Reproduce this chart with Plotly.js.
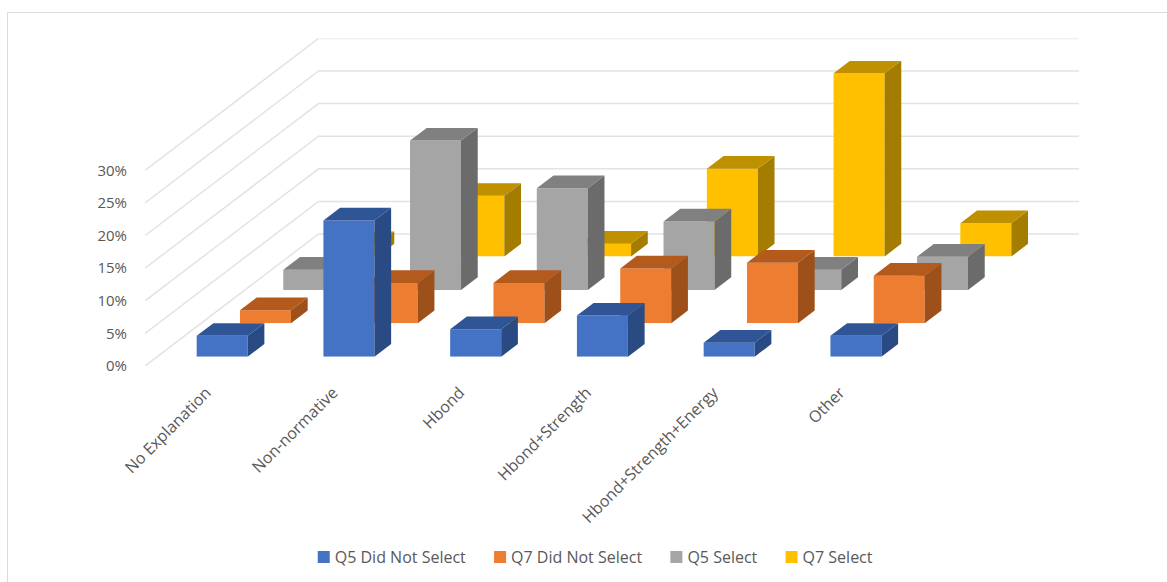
<!DOCTYPE html>
<html>
<head>
<meta charset="utf-8">
<script src="https://cdn.plot.ly/plotly-3.0.1.min.js"></script>
<style>html,body{margin:0;padding:0;background:#fff}#chart{width:1167px;height:582px}</style>
</head>
<body>
<div id="chart"></div>
<script>
// Percent of responses per explanation category, grouped by question and selection.
const categories = ['No Explanation', 'Non-normative', 'Hbond', 'Hbond+Strength', 'Hbond+Strength+Energy', 'Other'];
const percentTicks = [0, 5, 10, 15, 20, 25, 30];
const q5DidNotSelect = [3.2, 20.9, 4.2, 6.3, 2.15, 3.2];
const q7DidNotSelect = [2.0, 6.2, 6.2, 8.4, 9.3, 7.3];
const q5Select = [3.1, 22.9, 15.6, 10.5, 3.1, 5.1];
const q7Select = [1.9, 9.3, 1.95, 13.45, 28.1, 5.1];

// Page geometry, in pixels.
const W = 1167, H = 582;
const floorLeft = 145, floorWidth = 760.5, floorBottom = 366, valueHeight = 195.6;
const unitX = floorWidth / categories.length, unitY = valueHeight / 30;
const wallShift = {x: 173.5, y: 132};
const firstRow = {x: 13.8, y: 9.3}, rowStep = {x: 43.3, y: 33.4};
const barDepth = {x: 16.7, y: 12.7};
const barWidth = 51 / unitX;

// Depth expressed in each axis's own units.
const depthX = barDepth.x / unitX, depthY = barDepth.y / unitY;
const wallDX = wallShift.x / unitX, wallDY = wallShift.y / unitY;

// Series from the front row to the back row. Subplots draw in axis order, so
// the back row takes the lowest axis number and the front row the highest.
const series = [
  {name: 'Q5 Did Not Select', values: q5DidNotSelect, front: '#4472C4', top: '#2F5597', side: '#2A4A84', row: 0, axis: 5},
  {name: 'Q7 Did Not Select', values: q7DidNotSelect, front: '#ED7D31', top: '#B35A1C', side: '#9E501B', row: 1, axis: 4},
  {name: 'Q5 Select', values: q5Select, front: '#A5A5A5', top: '#808080', side: '#6B6B6B', row: 2, axis: 3},
  {name: 'Q7 Select', values: q7Select, front: '#FFC000', top: '#BF9000', side: '#A37C00', row: 3, axis: 2}
];

const traces = [];

// Wall and floor gridlines, running back from the front edge and across the wall.
const gridX = [], gridY = [];
percentTicks.forEach(t => {
  gridX.push(-0.5, -0.5 + wallDX, categories.length - 0.5 + wallDX, null);
  gridY.push(t, t + wallDY, t + wallDY, null);
});
traces.push({
  x: gridX, y: gridY, type: 'scatter', mode: 'lines', cliponaxis: false,
  line: {color: '#E3E3E3', width: 1.5}, showlegend: false, hoverinfo: 'skip', xaxis: 'x', yaxis: 'y'
});

const layout = {
  width: W, height: H,
  margin: {l: 0, r: 0, t: 0, b: 0},
  paper_bgcolor: '#ffffff', plot_bgcolor: 'rgba(0,0,0,0)',
  font: {family: '"Open Sans", sans-serif', size: 15, color: '#595959'},
  barmode: 'overlay',
  legend: {
    orientation: 'h', x: 0.5 + 3.25 / W, xanchor: 'center', y: 1 - 557 / H, yanchor: 'middle',
    font: {size: 16, color: '#595959'}, bgcolor: 'rgba(0,0,0,0)'
  },
  // The frame axes reach to the back corner of the wall; ticks stay on the front plane.
  xaxis: {
    domain: [floorLeft / W, (floorLeft + floorWidth + wallShift.x) / W],
    range: [-0.5, categories.length - 0.5 + wallDX],
    tickmode: 'array', tickvals: categories.map((c, i) => i), ticktext: categories,
    tickangle: -45, tickfont: {size: 16}, ticklabelshift: -2,
    ticks: 'outside', ticklen: 10, tickcolor: 'rgba(0,0,0,0)',
    showgrid: false, zeroline: false, showline: false, anchor: 'y'
  },
  yaxis: {
    domain: [1 - floorBottom / H, 1 - (floorBottom - valueHeight - wallShift.y) / H],
    range: [0, 30 + wallDY],
    tickmode: 'array', tickvals: percentTicks, ticktext: percentTicks.map(t => t + '%'),
    ticks: 'outside', ticklen: 14, tickcolor: 'rgba(0,0,0,0)',
    showgrid: false, zeroline: false, showline: false, anchor: 'x'
  },
  shapes: [
    {type: 'line', xref: 'paper', yref: 'paper', x0: 7.5 / W, x1: 1, y0: 1 - 12.5 / H, y1: 1 - 12.5 / H, line: {color: '#DADADA', width: 1}},
    {type: 'line', xref: 'paper', yref: 'paper', x0: 7.5 / W, x1: 7.5 / W, y0: 1 - 12.5 / H, y1: 0, line: {color: '#DADADA', width: 1}}
  ]
};

series.forEach(s => {
  const xName = 'x' + s.axis, yName = 'y' + s.axis;
  const left = floorLeft + firstRow.x + s.row * rowStep.x;
  const base = floorBottom - firstRow.y - s.row * rowStep.y;
  layout['xaxis' + s.axis] = {
    domain: [left / W, (left + floorWidth) / W], range: [-0.5, categories.length - 0.5],
    visible: false, anchor: yName
  };
  layout['yaxis' + s.axis] = {
    domain: [1 - base / H, 1 - (base - valueHeight) / H], range: [0, 30],
    visible: false, anchor: xName
  };

  // Front faces of the columns.
  traces.push({
    name: s.name, type: 'bar', x: categories.map((c, i) => i), y: s.values, width: barWidth,
    marker: {color: s.front, line: {width: 0}}, cliponaxis: false,
    xaxis: xName, yaxis: yName, hovertemplate: s.name + ': %{y}%<extra></extra>'
  });

  // Side and top faces, extruded from the same values.
  const sideX = [], sideY = [], topX = [], topY = [];
  s.values.forEach((v, i) => {
    const r = i + barWidth / 2, l = i - barWidth / 2;
    sideX.push(r, r + depthX, r + depthX, r, r, null);
    sideY.push(0, depthY, v + depthY, v, 0, null);
    topX.push(l, l + depthX, r + depthX, r, l, null);
    topY.push(v, v + depthY, v + depthY, v, v, null);
  });
  [[sideX, sideY, s.side], [topX, topY, s.top]].forEach(([fx, fy, color]) => {
    traces.push({
      x: fx, y: fy, type: 'scatter', mode: 'lines', fill: 'toself', fillcolor: color,
      line: {width: 0, color: color}, cliponaxis: false, showlegend: false, hoverinfo: 'skip',
      xaxis: xName, yaxis: yName
    });
  });
});

Plotly.newPlot('chart', traces, layout, {displayModeBar: false, responsive: false}).then(gd => {
  // Sit the legend swatches close to their labels.
  gd.querySelectorAll('.legend .legendpoints').forEach(n => n.setAttribute('transform', 'translate(9,0)'));
});
</script>
</body>
</html>
